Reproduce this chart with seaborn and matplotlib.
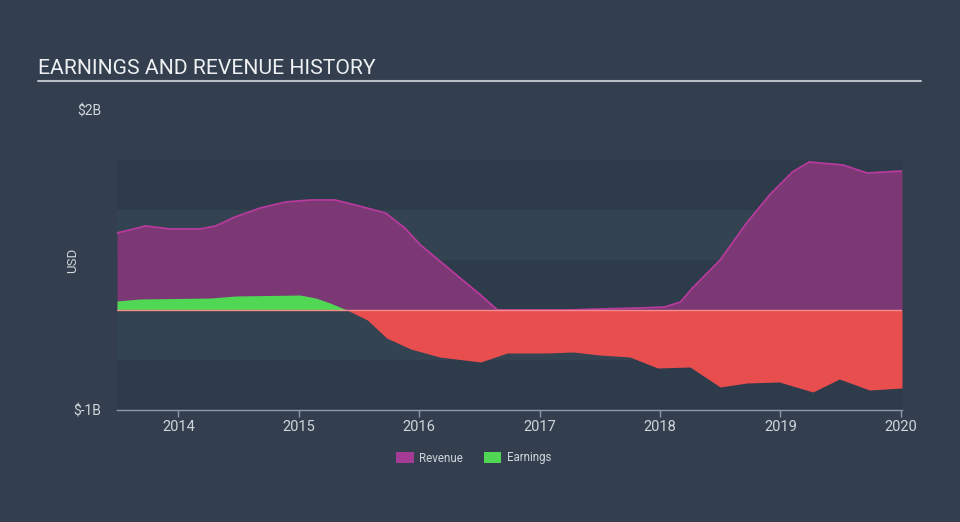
import numpy as np
import pandas as pd
import matplotlib
matplotlib.use("Agg")
import matplotlib.pyplot as plt
import seaborn as sns
from matplotlib.patches import Patch

# ---- data (billions USD, decimal years) ----
rev_year = [2013.49, 2013.73, 2013.93, 2014.18, 2014.31, 2014.47, 2014.68, 2014.89, 2015.10,
            2015.30, 2015.47, 2015.72, 2015.88, 2016.01, 2016.26, 2016.51, 2016.65, 2016.92,
            2017.25, 2017.50, 2017.83, 2018.04, 2018.17, 2018.27, 2018.50, 2018.72, 2018.91,
            2019.10, 2019.24, 2019.52, 2019.72, 2020.01]
revenue = [0.77, 0.84, 0.81, 0.81, 0.84, 0.93, 1.02, 1.08, 1.10,
           1.10, 1.05, 0.97, 0.82, 0.65, 0.40, 0.15, 0.00, 0.00,
           0.00, 0.01, 0.02, 0.03, 0.08, 0.22, 0.50, 0.87, 1.15,
           1.38, 1.48, 1.45, 1.37, 1.39]
earn_year = [2013.49, 2013.68, 2014.27, 2014.47, 2015.01, 2015.14, 2015.26, 2015.40, 2015.57,
             2015.73, 2015.93, 2016.17, 2016.51, 2016.73, 2017.06, 2017.28, 2017.50, 2017.75,
             2017.98, 2018.25, 2018.50, 2018.72, 2018.99, 2019.27, 2019.49, 2019.74, 2020.01]
earnings = [0.09, 0.11, 0.12, 0.14, 0.15, 0.12, 0.07, 0.00, -0.10,
            -0.28, -0.39, -0.47, -0.52, -0.43, -0.43, -0.42, -0.45, -0.47,
            -0.58, -0.57, -0.77, -0.73, -0.72, -0.82, -0.69, -0.80, -0.78]
year_ticks = [2014, 2015, 2016, 2017, 2018, 2019, 2020]
y_ticks = [2, -1]
y_tick_labels = ["$2B", "$-1B"]
series_names = ["Revenue", "Earnings"]

BG = "#333f4f"
BAND_DARK = "#2e3b4a"
BAND_LIGHT = "#344352"
REV_FILL = "#7b3874"
REV_LINE = "#b73a9c"
GREEN = "#50d855"
RED = "#e94e4f"
TXT = "#d0d5da"

sns.set_theme(style="dark")
plt.rcParams['font.family'] = ['Roboto', 'DejaVu Sans']

fig = plt.figure(figsize=(9.6, 5.22), dpi=100, facecolor=BG)
ax = fig.add_axes([117/960, (522-410)/522, 785/960, 300/522])
ax.set_facecolor(BG)

# bands
edges = np.arange(-1.0, 1.51, 0.5)
for i in range(len(edges) - 1):
    ax.axhspan(edges[i], edges[i+1], color=BAND_DARK if i % 2 == 0 else BAND_LIGHT, lw=0, zorder=0)

rdf = pd.DataFrame({"year": rev_year, "value": revenue})
ey = np.array(earn_year); ev = np.array(earnings)

ax.fill_between(rdf["year"], 0, rdf["value"], color=REV_FILL, lw=0, zorder=2)
sns.lineplot(data=rdf, x="year", y="value", ax=ax, color=REV_LINE, lw=1.3, zorder=3)
ax.fill_between(ey, 0, ev, where=ev >= 0, interpolate=True, color=GREEN, lw=0, zorder=4)
ax.fill_between(ey, 0, ev, where=ev <= 0, interpolate=True, color=RED, lw=0, zorder=4)
ax.axhline(0, color="#f48a8a", lw=1.0, zorder=5)

ax.set_xlim(2013.49, 2020.01)
ax.set_ylim(-1, 2)
ax.set_yticks(y_ticks)
ax.set_yticklabels(y_tick_labels, color=TXT, fontsize=10)
ax.set_xticks(year_ticks)
ax.set_xticklabels([str(y) for y in year_ticks], color=TXT, fontsize=10.5)
ax.tick_params(axis="y", length=0, pad=11.5)
ax.tick_params(axis="x", length=5, width=1, color="#8d99a6", pad=2, bottom=True)
ax.set_xlabel("")
ax.set_ylabel("USD", color=TXT, fontsize=9.5)
ax.yaxis.set_label_coords((79 - 117) / 785, 0.5)
ax.grid(False)
for s in ["top", "right", "left"]:
    ax.spines[s].set_visible(False)
ax.spines["bottom"].set_color("#8d99a6")
ax.spines["bottom"].set_linewidth(1)

# title & underline
fig.text(38/960, 1 - 68/522, "EARNINGS AND REVENUE HISTORY", color="#eef0f2",
         fontsize=15.2, va="center", ha="left")
fig.add_artist(plt.Line2D([38/960, 921/960], [1 - 81/522, 1 - 81/522],
                          color="#b9bec4", lw=1.5))

handles = [Patch(facecolor="#a43c96", edgecolor="none", label=series_names[0]),
           Patch(facecolor=GREEN, edgecolor="none", label=series_names[1])]
leg = fig.legend(handles=handles, loc="center", bbox_to_anchor=(474/960, 1 - 458/522), ncol=2,
                 frameon=False, fontsize=8.3, labelcolor=TXT, handlelength=1.5,
                 handleheight=1.1, columnspacing=1.8, handletextpad=0.5)

fig.savefig("out.png", dpi=100, facecolor=BG)
